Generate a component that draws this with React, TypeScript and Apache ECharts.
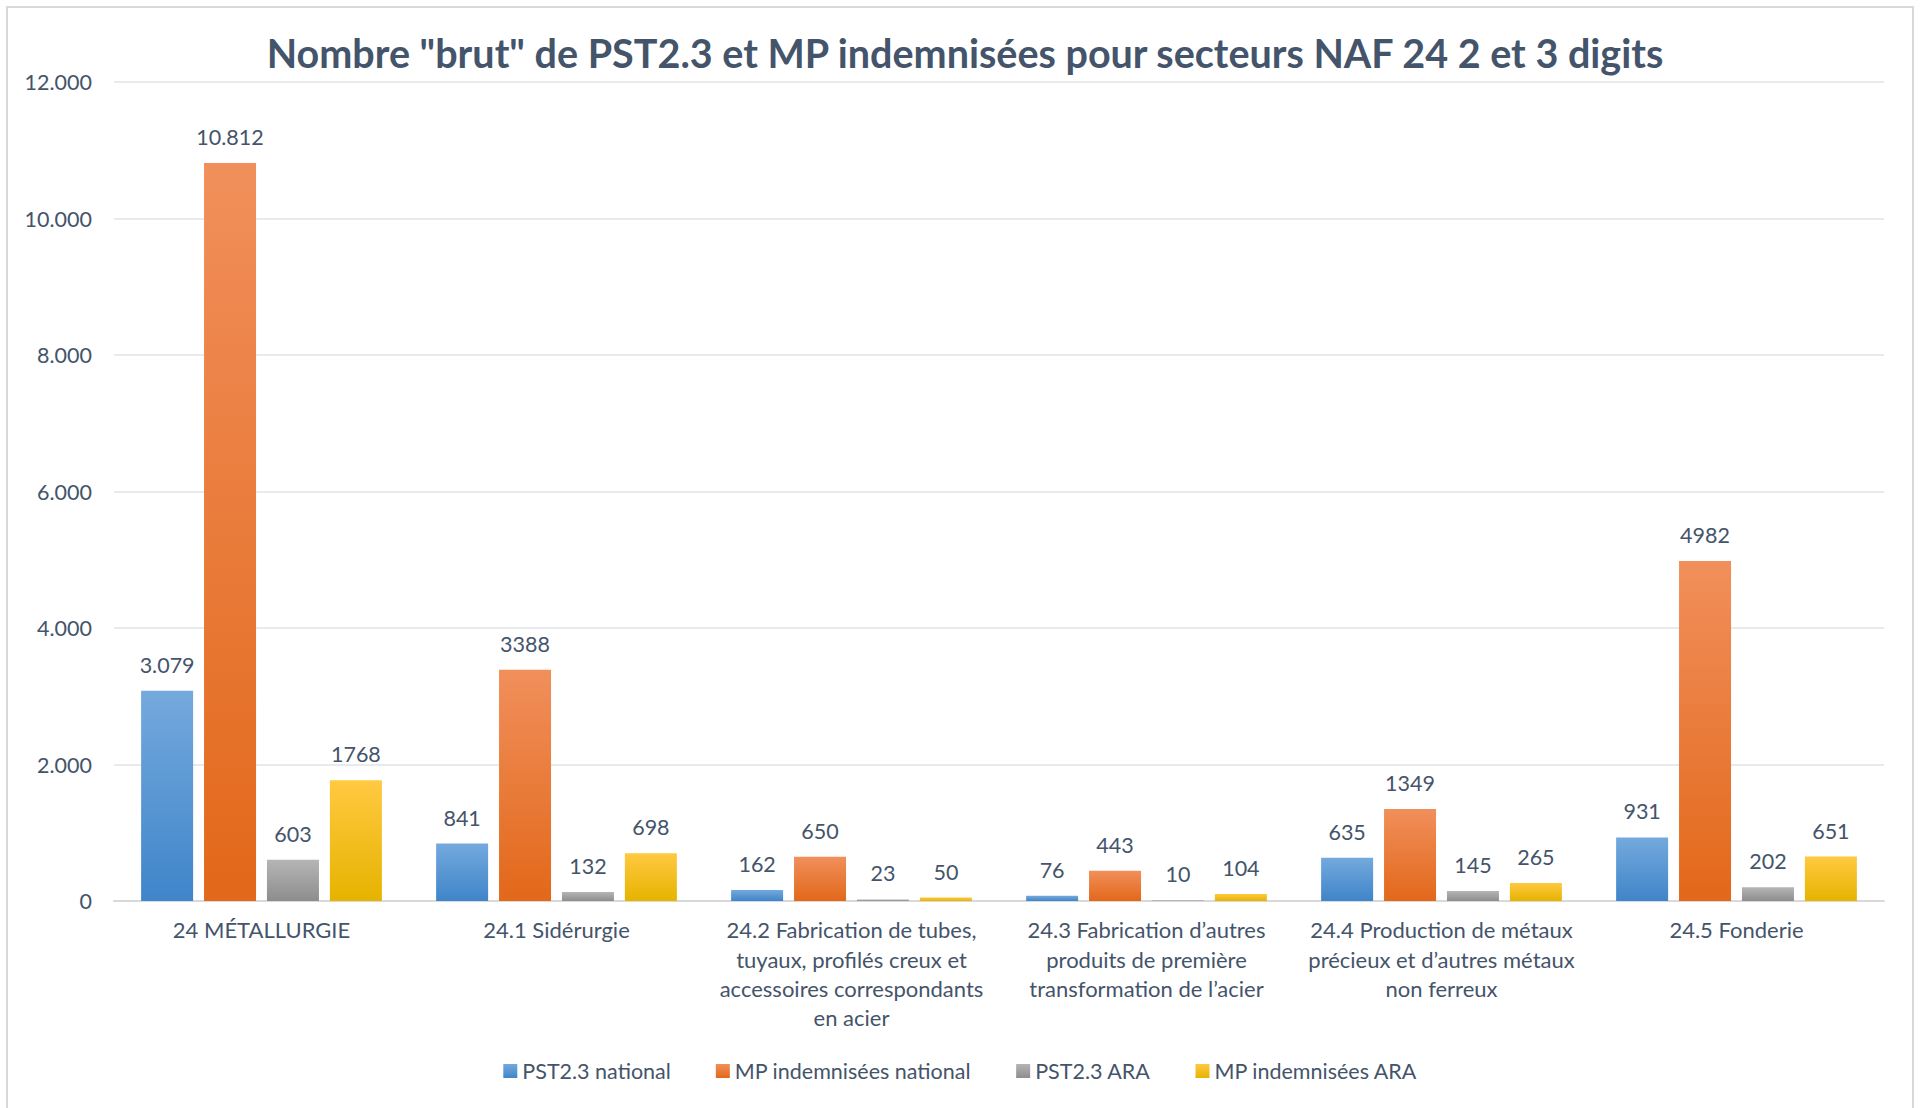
import React, { useEffect, useRef } from "react";
import * as echarts from "echarts";

const titleText = 'Nombre "brut" de PST2.3 et MP indemnisées pour secteurs NAF 24 2 et 3 digits';

const categories = [
  "24 MÉTALLURGIE",
  "24.1 Sidérurgie",
  "24.2 Fabrication de tubes,\ntuyaux, profilés creux et\naccessoires correspondants\nen acier",
  "24.3 Fabrication d’autres\nproduits de première\ntransformation de l’acier",
  "24.4 Production de métaux\nprécieux et d’autres métaux\nnon ferreux",
  "24.5 Fonderie",
];

const seriesNames = [
  "PST2.3 national",
  "MP indemnisées national",
  "PST2.3 ARA",
  "MP indemnisées ARA",
];

const pstNational = [3079, 841, 162, 76, 635, 931];
const mpNational = [10812, 3388, 650, 443, 1349, 4982];
const pstAra = [603, 132, 23, 10, 145, 202];
const mpAra = [1768, 698, 50, 104, 265, 651];

// labels shown with a thousands separator in the reference: [seriesIndex, dataIndex]
const dottedLabels = [
  [0, 0],
  [1, 0],
];

const yTicks = { min: 0, max: 12000, interval: 2000 };

const gradients = [
  ["#74a9dd", "#3f85c9"],
  ["#f18f5b", "#e2681a"],
  ["#b5b5b5", "#8d8d8d"],
  ["#ffc941", "#e6b300"],
];

const TEXT = "#44546a";
const FONT = "Lato";

const fmtDots = (v: number) =>
  String(Math.round(v)).replace(/\B(?=(\d{3})+(?!\d))/g, ".");

export default function App() {
  const ref = useRef<HTMLDivElement>(null);

  useEffect(() => {
    if (!ref.current) return;
    const chart = echarts.init(ref.current, undefined, { renderer: "svg" });
    const allData = [pstNational, mpNational, pstAra, mpAra];

    const series = allData.map((d, si) => ({
      name: seriesNames[si],
      type: "bar",
      data: d,
      barWidth: 52,
      barGap: "21%",
      itemStyle: {
        color: new echarts.graphic.LinearGradient(0, 0, 0, 1, [
          { offset: 0, color: gradients[si][0] },
          { offset: 1, color: gradients[si][1] },
        ]),
      },
      label: {
        show: true,
        position: "top",
        distance: 15,
        color: TEXT,
        fontFamily: FONT,
        fontSize: 21.5,
        formatter: (p: any) =>
          dottedLabels.some(([s, i]) => s === si && i === p.dataIndex)
            ? fmtDots(p.value)
            : String(p.value),
      },
    }));

    chart.setOption({
      animation: false,
      backgroundColor: "#ffffff",
      textStyle: { fontFamily: FONT },
      title: {
        text: titleText,
        left: 960,
        top: 27,
        textAlign: "center",
        textStyle: {
          color: TEXT,
          fontFamily: FONT,
          fontWeight: "bold",
          fontSize: 39.5,
        },
      },
      graphic: [
        {
          type: "rect",
          shape: { x: 7, y: 7, width: 1906, height: 1120 },
          style: { fill: "none", stroke: "#d9d9d9", lineWidth: 2 },
          silent: true,
        },
      ],
      legend: {
        bottom: 21,
        left: "center",
        itemWidth: 14,
        itemHeight: 14,
        itemGap: 45,
        icon: "rect",
        textStyle: { color: TEXT, fontFamily: FONT, fontSize: 21.5 },
        data: seriesNames,
      },
      grid: { left: 114, right: 37, top: 82, bottom: 207, containLabel: false },
      xAxis: {
        type: "category",
        data: categories,
        axisLine: { show: true, lineStyle: { color: "#d9d9d9", width: 2 } },
        axisTick: { show: false },
        axisLabel: {
          color: TEXT,
          fontFamily: FONT,
          fontSize: 22,
          lineHeight: 29.4,
          margin: 14,
          interval: 0,
          align: "center",
        },
      },
      yAxis: {
        type: "value",
        min: yTicks.min,
        max: yTicks.max,
        interval: yTicks.interval,
        axisLine: { show: false },
        axisTick: { show: false },
        splitLine: { lineStyle: { color: "#dfe3e8", width: 1.5 } },
        axisLabel: {
          color: TEXT,
          fontFamily: FONT,
          fontSize: 21.5,
          margin: 22,
          formatter: (v: number) => fmtDots(v),
        },
      },
      series,
    });

    return () => chart.dispose();
  }, []);

  return (
    <div
      ref={ref}
      style={{ position: "absolute", left: 0, top: 0, width: 1921, height: 1108 }}
    />
  );
}
